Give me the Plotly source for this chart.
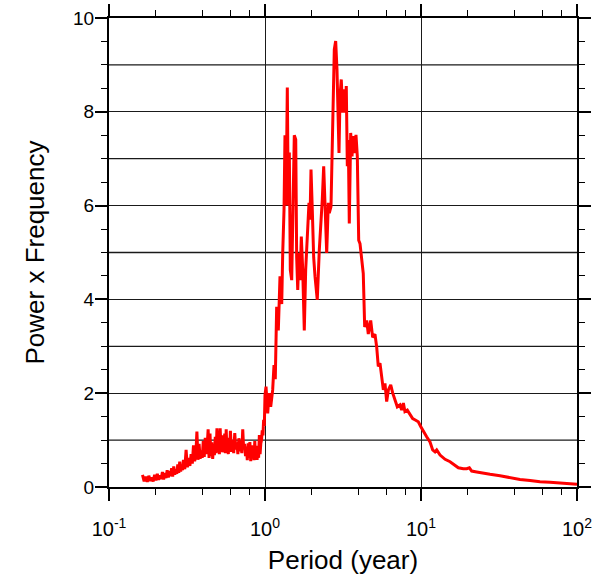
import plotly.graph_objects as go

# Spectrum: period (years) and power x frequency
period = [
    # sub-annual band
    0.164, 0.168, 0.172, 0.176, 0.180, 0.184, 0.188, 0.192, 0.196, 0.200,
    0.204, 0.208, 0.212, 0.216, 0.220, 0.224, 0.228, 0.232, 0.236, 0.240,
    0.244, 0.248, 0.252, 0.256, 0.260, 0.264, 0.268, 0.272, 0.276, 0.280,
    0.284, 0.288, 0.292, 0.296, 0.300,
    0.306, 0.312, 0.318, 0.324, 0.330, 0.336, 0.342, 0.348, 0.354, 0.360,
    0.366, 0.372, 0.378, 0.384, 0.390, 0.396, 0.402, 0.408, 0.414, 0.420,
    0.426, 0.432, 0.438, 0.444, 0.450, 0.456, 0.462, 0.468, 0.474, 0.480,
    0.486, 0.492, 0.498, 0.504, 0.510, 0.516, 0.522, 0.528, 0.534, 0.540,
    0.546, 0.552, 0.558, 0.564, 0.570, 0.576, 0.582, 0.588, 0.594, 0.600,
    0.610, 0.620, 0.630, 0.640, 0.650, 0.660, 0.670, 0.680, 0.690, 0.700,
    0.710, 0.720, 0.730, 0.740, 0.750, 0.760, 0.770, 0.780, 0.790, 0.800,
    0.810, 0.820, 0.830, 0.840, 0.850, 0.860, 0.870, 0.880, 0.890, 0.900,
    0.910, 0.920, 0.930, 0.940, 0.950, 0.960, 0.970, 0.980, 0.990,
    # inter-annual peaks
    1.000, 1.015, 1.041, 1.061, 1.088,
    1.120, 1.142, 1.164, 1.188, 1.217, 1.248, 1.280, 1.299, 1.324, 1.343,
    1.364, 1.390, 1.410, 1.432, 1.453, 1.483, 1.505, 1.541, 1.574, 1.596,
    1.621, 1.652, 1.676, 1.709, 1.745, 1.786, 1.823, 1.866, 1.914, 1.943,
    1.972, 2.010, 2.051, 2.092, 2.163, 2.229, 2.285, 2.329, 2.378, 2.425,
    2.486, 2.546, 2.583, 2.649, 2.689, 2.729, 2.781, 2.838, 2.894, 2.938,
    2.981, 3.026, 3.083, 3.148, 3.207, 3.270, 3.319, 3.370, 3.420, 3.470,
    3.542, 3.611, 3.680, 3.757, 3.830, 3.906, 3.987, 4.064, 4.166, 4.265,
    4.355, 4.487, 4.594, 4.760, 4.899, 5.070, 5.200, 5.324, 5.458, 5.598,
    5.737, 5.875, 6.026, 6.177, 6.396, 6.588, 6.810, 7.047, 7.328, 7.518,
    # decadal tail
    7.709, 7.889, 8.169, 8.495, 8.842, 9.190, 9.609, 9.956, 10.35, 10.87,
    11.42, 11.88, 12.30, 12.61, 13.25, 14.27, 15.36, 16.12, 17.35, 18.68,
    19.64, 20.42, 21.14, 22.76, 25.10, 27.70, 32.10, 37.20, 43.10, 50.00,
    57.90, 67.10, 77.80, 90.20, 100.0,
]

power_freq = [
    0.26, 0.12, 0.22, 0.11, 0.24, 0.13, 0.20, 0.12, 0.26, 0.14,
    0.28, 0.15, 0.25, 0.17, 0.32, 0.16, 0.30, 0.19, 0.36, 0.20,
    0.34, 0.23, 0.40, 0.22, 0.44, 0.26, 0.38, 0.28, 0.48, 0.30,
    0.54, 0.33, 0.46, 0.36, 0.58,
    0.38, 0.79, 0.42, 0.62, 0.45, 0.70, 0.50, 0.89, 0.55, 0.66,
    1.18, 0.58, 0.92, 0.60, 0.78, 0.62, 0.98, 0.64, 1.05, 0.70,
    0.88, 1.23, 0.62, 1.14, 0.66, 0.95, 0.60, 0.90, 0.68, 1.07,
    0.72, 1.25, 0.75, 1.00, 0.70, 1.25, 0.79, 1.10, 0.74, 1.02,
    0.80, 1.14, 0.72, 1.23, 0.76, 1.05, 0.70, 0.98, 0.78, 1.20,
    0.75, 1.00, 0.72, 1.15, 0.80, 0.95, 0.70, 1.04, 0.76, 0.98,
    0.72, 1.23, 0.80, 0.92, 0.66, 0.86, 0.57, 0.93, 0.62, 0.96,
    0.55, 0.89, 0.61, 0.84, 0.57, 0.98, 0.60, 0.72, 0.58, 0.88,
    0.62, 1.11, 0.70, 0.93, 1.00, 1.21, 1.10, 1.43, 1.30,
    1.96, 2.14, 1.57, 2.00, 1.71,
    2.07, 2.60, 2.30, 3.84, 3.34, 4.49, 3.90, 4.99, 5.90, 7.50,
    6.00, 8.52, 6.00, 7.13, 4.63, 4.41, 5.63, 7.50, 7.41, 4.90,
    4.20, 4.99, 4.41, 5.34, 4.63, 3.34, 4.63, 5.20, 6.06, 5.70,
    6.77, 5.91, 4.90, 4.49, 3.99, 5.06, 5.63, 6.13, 6.84, 5.84,
    4.99, 6.06, 5.84, 5.98, 7.26, 8.55, 9.33, 9.51, 8.90, 7.98,
    7.12, 8.34, 8.69, 7.98, 8.48, 7.98, 8.55, 6.84, 7.40, 5.62,
    7.55, 7.05, 7.48, 7.12, 7.51, 7.05, 5.26, 5.19, 4.84, 4.55,
    3.41, 3.55, 3.26, 3.55, 3.19, 3.26, 2.98, 2.57, 2.64, 2.29,
    2.07, 2.21, 1.82, 2.07, 2.18, 2.00, 1.86, 1.71, 1.75, 1.64,
    1.79, 1.61, 1.64, 1.54, 1.46, 1.43, 1.39, 1.29, 1.18, 1.07,
    0.96, 0.79, 0.75, 0.79, 0.68, 0.59, 0.54, 0.49, 0.41, 0.39,
    0.39, 0.41, 0.34, 0.32, 0.29, 0.27, 0.24, 0.20, 0.16, 0.14,
    0.11, 0.10, 0.09, 0.08, 0.06,
]

x_major = [0.1, 1, 10, 100]
x_major_text = ["10<sup>-1</sup>", "10<sup>0</sup>", "10<sup>1</sup>", "10<sup>2</sup>"]
x_minor = [0.2, 0.4, 0.6, 0.8, 2, 4, 6, 8, 20, 40, 60, 80]
y_major = [0, 2, 4, 6, 8, 10]
y_minor = [0.5, 1, 1.5, 2.5, 3, 3.5, 4.5, 5, 5.5, 6.5, 7, 7.5, 8.5, 9, 9.5]
y_odd_grid = [1, 3, 5, 7, 9]

FONT = "Liberation Sans, Arial, Helvetica, sans-serif"
GRID = "#1a1a1a"

fig = go.Figure()
fig.add_trace(go.Scatter(
    x=period, y=power_freq, mode="lines",
    line=dict(color="#ff0000", width=3),
    showlegend=False,
))

# horizontal grid at odd values (even values use the axis grid)
for v in y_odd_grid:
    fig.add_shape(type="line", xref="paper", x0=0, x1=1, yref="y", y0=v, y1=v,
                  line=dict(color=GRID, width=1.3), layer="below")

fig.update_xaxes(
    type="log", range=[-1, 2],
    tickmode="array", tickvals=x_major, ticktext=x_major_text,
    ticks="outside", ticklen=12, tickwidth=1.5, tickcolor="black",
    showline=True, linewidth=2, linecolor="black", mirror="allticks",
    showgrid=True, gridcolor=GRID, gridwidth=1.3,
    zeroline=False,
    tickfont=dict(family=FONT, size=20, color="black"),
    ticklabelstandoff=11,
    minor=dict(tickmode="array", tickvals=x_minor, ticks="outside",
               ticklen=6, tickwidth=1.2, tickcolor="black", showgrid=False),
    title=dict(text="Period (year)", font=dict(family=FONT, size=26, color="black"),
               standoff=12),
)
fig.update_yaxes(
    range=[0, 10],
    tickmode="array", tickvals=y_major,
    ticks="outside", ticklen=12, tickwidth=1.5, tickcolor="black",
    showline=True, linewidth=2, linecolor="black", mirror="allticks",
    showgrid=True, gridcolor=GRID, gridwidth=1.3,
    zeroline=False,
    tickfont=dict(family=FONT, size=19, color="black"),
    ticklabelstandoff=-3,
    minor=dict(tickmode="array", tickvals=y_minor, ticks="outside",
               ticklen=6, tickwidth=1.2, tickcolor="black", showgrid=False),
    title=dict(text="Power x Frequency", font=dict(family=FONT, size=26, color="black"),
               standoff=21),
)
fig.update_layout(
    width=598, height=579,
    margin=dict(l=109, r=21, t=18, b=92, autoexpand=False),
    paper_bgcolor="white", plot_bgcolor="white",
    font=dict(family=FONT),
)

fig.write_html("out.html")
